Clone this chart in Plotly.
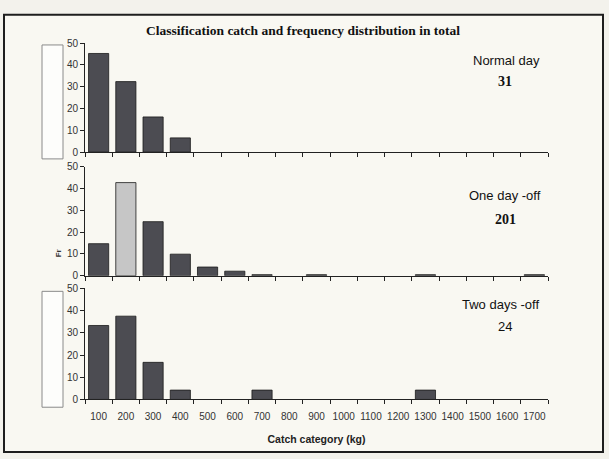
import plotly.graph_objects as go

W, H = 609, 459

categories = ["100", "200", "300", "400", "500", "600", "700", "800", "900",
              "1000", "1100", "1200", "1300", "1400", "1500", "1600", "1700"]
normal_day = [45.2, 32.3, 16.1, 6.5, 0, 0, 0, 0, 0, 0, 0, 0, 0, 0, 0, 0, 0]
one_day_off = [14.7, 42.7, 24.8, 9.9, 4.0, 2.1, 0.5, 0, 0.5, 0, 0, 0, 0.5, 0, 0, 0, 0.5]
two_days_off = [33.3, 37.5, 16.7, 4.2, 0, 0, 4.2, 0, 0, 0, 0, 0, 4.2, 0, 0, 0, 0]
panel_names = ["Normal day", "One day -off", "Two days -off"]
panel_counts = ["31", "201", "24"]
y_ticks = [0, 10, 20, 30, 40, 50]

title_text = "Classification catch and frequency distribution in total"
x_title = "Catch category (kg)"


def px(x):
    return x / W


def py(y):
    return 1 - y / H


DARK = "#4c4c52"
SILVER = "#c6c6c6"

# pixel layout of the three panels (top, bottom of y-range 50..0)
panels = [(38, 150), (165, 277), (290, 404)]
x_dom = [px(85), px(548)]

series = [normal_day, one_day_off, two_days_off]
fig = go.Figure()

for i, vals in enumerate(series):
    colors = [DARK] * len(vals)
    if i == 1:
        colors[1] = SILVER
    widths = [0.8 if v > 0 else 0 for v in vals]
    fig.add_trace(go.Bar(
        x=categories, y=vals,
        marker=dict(color=colors, line=dict(color="#1a1a1a", width=widths)),
        xaxis="x" if i == 0 else f"x{i+1}",
        yaxis="y" if i == 0 else f"y{i+1}",
        showlegend=False, hoverinfo="x+y",
    ))

tickfont = dict(family="Liberation Sans, Arial", size=10, color="#333333")
xtickfont = dict(family="Liberation Sans, Arial", size=10, color="#333333")
layout = dict(
    width=W, height=H,
    margin=dict(l=0, r=0, t=0, b=0),
    paper_bgcolor="#f3f2ec",
    plot_bgcolor="rgba(0,0,0,0)",
    bargap=0.26,
    showlegend=False,
)

for i, (top, bot) in enumerate(panels):
    suffix = "" if i == 0 else str(i + 1)
    layout[f"xaxis{suffix}"] = dict(
        domain=x_dom, anchor=f"y{suffix}", type="category",
        range=[-0.5, len(categories) - 0.5],
        showline=True, linecolor="#222222", linewidth=1,
        ticks="outside", ticklen=4, tickcolor="#222222", tickson="boundaries",
        showticklabels=(i == 2), tickfont=xtickfont, tickangle=0,
        ticklabelstandoff=8, showgrid=False,
        zeroline=False, fixedrange=True,
    )
    layout[f"yaxis{suffix}"] = dict(
        domain=[py(bot), py(top)], anchor=f"x{suffix}",
        range=[0, 50], tickvals=y_ticks,
        showline=True, linecolor="#222222", linewidth=1,
        ticks="outside", ticklen=4, tickcolor="#222222",
        tickfont=tickfont, showgrid=False, zeroline=False, fixedrange=True,
    )

layout["xaxis3"]["title"] = dict(
    text="<b>" + x_title + "</b>",
    font=dict(family="Liberation Sans, Arial", size=10.5, color="#222222"),
    standoff=14,
)

shapes = [
    dict(type="rect", xref="paper", yref="paper", layer="below",
         x0=px(4), x1=px(603), y0=py(458), y1=py(9),
         fillcolor="#f9f8f2", line=dict(color="#1e1e1e", width=2)),
    dict(type="rect", xref="paper", yref="paper", layer="below",
         x0=px(42), x1=px(63), y0=py(157), y1=py(40),
         fillcolor="#fdfdfb", line=dict(color="#8a8a8a", width=1)),
    dict(type="rect", xref="paper", yref="paper", layer="below",
         x0=px(42), x1=px(63), y0=py(412), y1=py(293),
         fillcolor="#fdfdfb", line=dict(color="#8a8a8a", width=1)),
]
layout["shapes"] = shapes

annotations = [
    dict(text="<b>" + title_text + "</b>", x=px(303), y=py(25),
         font=dict(family="Liberation Serif, Times New Roman", size=13.5, color="#111111")),
]
name_pos = [(506, 56), (505, 195), (500, 306)]
count_pos = [(505, 78), (505, 219), (505, 329)]
for i in range(3):
    annotations.append(dict(text=panel_names[i], x=px(name_pos[i][0]), y=py(name_pos[i][1]),
                            font=dict(family="Liberation Sans, Arial", size=13, color="#111111")))
    if i < 2:
        cnt = dict(text="<b>" + panel_counts[i] + "</b>",
                   font=dict(family="Liberation Serif, Times New Roman", size=14, color="#111111"))
    else:
        cnt = dict(text=panel_counts[i],
                   font=dict(family="Liberation Sans, Arial", size=13, color="#111111"))
    cnt.update(x=px(count_pos[i][0]), y=py(count_pos[i][1]))
    annotations.append(cnt)
annotations.append(dict(text="<b>Fr</b>", x=px(58), y=py(254), textangle=-90,
                        font=dict(family="Liberation Sans, Arial", size=8, color="#333333")))
for a in annotations:
    a.update(xref="paper", yref="paper", showarrow=False, xanchor="center", yanchor="middle")
layout["annotations"] = annotations

fig.update_layout(**layout)
fig.write_html("out.html", config={"displayModeBar": False},
               post_script="document.body.style.margin='0';document.body.style.overflow='hidden';")
